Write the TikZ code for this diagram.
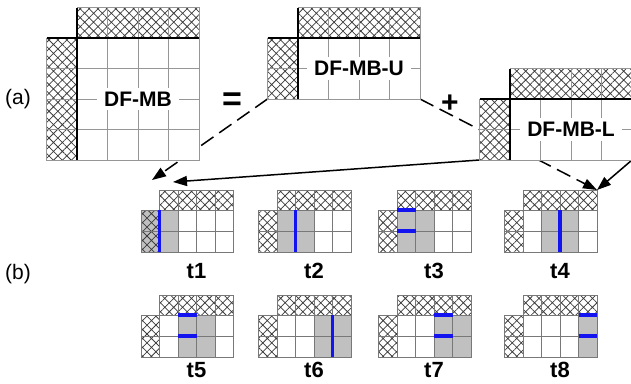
\documentclass[tikz,border=0pt]{standalone}
\usepackage{fontspec}
\setmainfont{Liberation Sans}
\usetikzlibrary{arrows.meta, patterns.meta, backgrounds, positioning}

\definecolor{linegray}{RGB}{150,150,150}
\definecolor{tgray}{RGB}{120,120,120}
\definecolor{hatchgray}{RGB}{60,60,60}
\definecolor{cellgray}{RGB}{192,192,192}
\definecolor{tblue}{RGB}{20,20,240}

\tikzset{
    hatch/.style = {pattern={Hatch[angle=45, distance=6.3pt, line width=0.75pt]}, pattern color=hatchgray},
    mbox/.style = {draw=linegray, line width=0.8pt, fill=white, inner sep=0pt, outer sep=0pt, anchor=north west},
    mhatch/.style = {mbox, preaction={fill=white}, hatch}, % hatched strip that hides what runs behind it
    mline/.style = {draw=linegray, line width=0.8pt},
    rim/.style = {draw=black, line width=1.8pt},
    mtext/.style = {fill=white, inner xsep=7pt, inner ysep=4pt, font=\bfseries\fontsize{21}{21}\selectfont},
    tbox/.style = {draw=tgray, line width=0.8pt, inner sep=0pt, outer sep=0pt, anchor=north west},
    tcell/.style = {draw=tgray, line width=0.8pt},
    tline/.style = {draw=tblue, line width=3.2pt},
    tname/.style = {inner sep=0pt, font=\bfseries\fontsize{22}{22}\selectfont},
    conn/.style = {line width=1.5pt, -{Triangle[length=14pt, width=10pt]}},
    tag/.style = {font=\fontsize{21}{21}\selectfont}
}

% big block: #1 name, (#2,#3) top left of the inner grid, #4 rows, #5 text
\newcommand{\mblock}[5]{%
  \node[mbox, minimum width=122pt, minimum height=#4*30.5pt] (#1) at (#2,#3) {};
  \node[mhatch, minimum width=122pt, minimum height=30.5pt, anchor=south west] (#1-top) at (#1.north west) {};
  \node[mhatch, minimum width=30.5pt, minimum height=#4*30.5pt, anchor=north east] (#1-left) at (#1.north west) {};
  \foreach \i in {1,2,3} \draw[mline] ([xshift=\i*30.5pt]#1-top.north west) -- ([xshift=\i*30.5pt]#1.south west);
  \foreach \j in {1,...,#4} \draw[mline] ([yshift=-\j*30.5pt]#1-left.north west) -- ([yshift=-\j*30.5pt]#1.north east);
  \node[mtext] (#1-text) at (#1.center) {#5};
  \draw[rim] (#1-top.north west) -- (#1.south west);
  \draw[rim] (#1-left.north west) -- (#1.north east);
}

% small block: #1 name, (#2,#3) top left of the 2x4 grid, #4 shaded columns (0 = hatched one),
% #5 caption, #6 gap above the caption
\newcommand{\tblock}[6]{%
  \foreach \c in {#4} \fill[cellgray] (#2+18.5*\c-18.5,#3) rectangle ++(18.5,42);
  \node[tbox, minimum width=74pt, minimum height=42pt] (#1) at (#2,#3) {};
  \node[tbox, hatch, minimum width=74pt, minimum height=20pt, anchor=south west] (#1-top) at (#1.north west) {};
  \node[tbox, hatch, minimum width=18.5pt, minimum height=42pt, anchor=north east] (#1-left) at (#1.north west) {};
  \foreach \c in {1,2,3} \draw[tcell] ([xshift=\c*18.5pt]#1-top.north west) -- ([xshift=\c*18.5pt]#1.south west);
  \draw[tcell] (#1-left.west) -- (#1.east);
  \node[tname, below=#6 of #1] (#1-cap) {#5};
}

\begin{document}
\begin{tikzpicture}[x=1pt, y=-1pt]
  \useasboundingbox (0,0) rectangle (631,383);

  % (a) the block and its two parts
  \node[tag] (a) at (18,99) {(a)};
  \mblock{mb}{77}{38}{4}{DF-MB}
  \node[font=\bfseries\fontsize{34}{34}\selectfont] (eq) at (232,102) {=};
  \mblock{mbu}{298}{38}{2}{DF-MB-U}
  \node[font=\bfseries\fontsize{30}{30}\selectfont] (plus) at (450,104) {+};
  \mblock{mbl}{510}{99}{2}{DF-MB-L}

  % (b) the eight steps
  \node[tag] (b) at (18,274) {(b)};
  \tblock{t1}{159.5}{210}{0,1}{t1}{11pt}
  \tblock{t2}{277}{210}{1,2}{t2}{11pt}
  \tblock{t3}{397}{210}{1,2}{t3}{11pt}
  \tblock{t4}{523}{210}{2,3}{t4}{11pt}
  \tblock{t5}{159.5}{315}{2,3}{t5}{5pt}
  \tblock{t6}{277}{315}{3,4}{t6}{5pt}
  \tblock{t7}{397}{315}{3,4}{t7}{5pt}
  \tblock{t8}{523}{315}{4}{t8}{5pt}

  % blue edges of each step
  \draw[tline] (t1.north west) -- (t1.south west);
  \draw[tline] ([xshift=18.5pt]t2.north west) -- ([xshift=18.5pt]t2.south west);
  \draw[tline] (t3.north west) -- ++(18.5,0);
  \draw[tline] (t3.west) -- ++(18.5,0);
  \draw[tline] ([xshift=37pt]t4.north west) -- ([xshift=37pt]t4.south west);
  \draw[tline] ([xshift=18.5pt]t5.north west) -- ++(18.5,0);
  \draw[tline] ([xshift=18.5pt]t5.west) -- ++(18.5,0);
  \draw[tline] ([xshift=55.5pt]t6.north west) -- ([xshift=55.5pt]t6.south west);
  \draw[tline] ([xshift=37pt]t7.north west) -- ++(18.5,0);
  \draw[tline] ([xshift=37pt]t7.west) -- ++(18.5,0);
  \draw[tline] ([xshift=55.5pt]t8.north west) -- ++(18.5,0);
  \draw[tline] ([xshift=55.5pt]t8.west) -- ++(18.5,0);

  % arrows down to the steps, behind the blocks
  \begin{scope}[on background layer]
    \coordinate (tipA) at (152,180);
    \coordinate (tipB) at (173,182);
    \path[conn, dash pattern=on 15pt off 7pt] (mbu-left.south west) edge (tipA)
                                             (mbu.south east) edge (t4-top.north east);
    \path[conn] (mbl-left.south west) edge (tipB)
                (mbl.south east) edge (t4-top.north east);
  \end{scope}
\end{tikzpicture}
\end{document}
